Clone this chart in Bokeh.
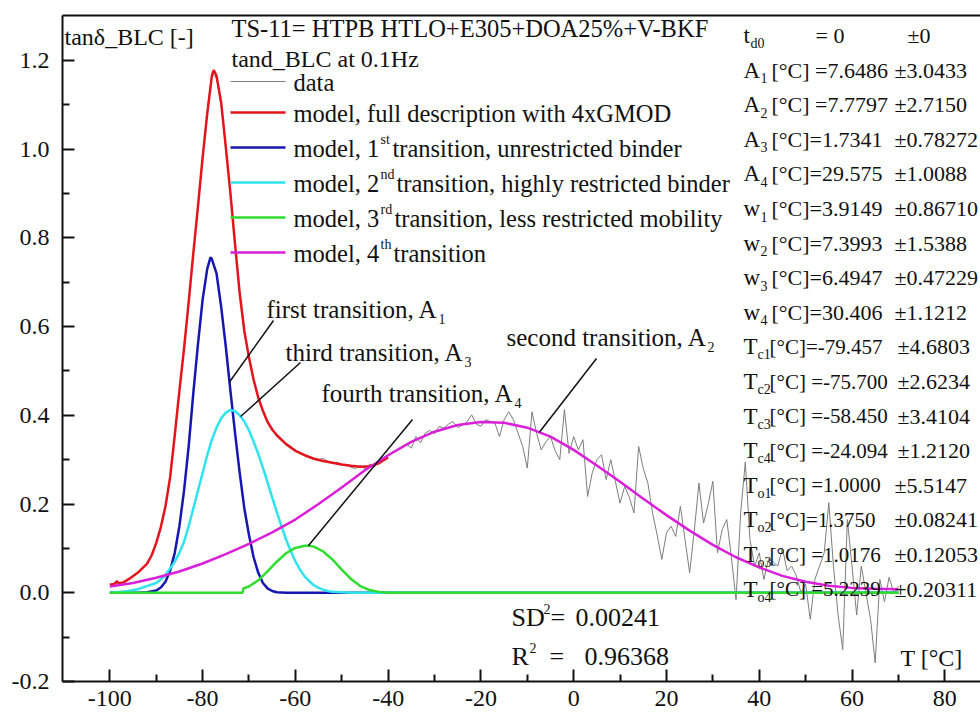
import numpy as np
from bokeh.plotting import figure
from bokeh.models import Label, LinearAxis, FixedTicker, PrintfTickFormatter, Range1d
from bokeh.embed import file_html
from bokeh.resources import INLINE

# ---------------- measured loss factor (tan delta, baseline corrected) -------------
temp_data = list(range(-100, 71))
tan_data = [
    0.018, 0.022, 0.021, 0.024, 0.030, 0.036, 0.045, 0.055, 0.066, 0.085,
    0.11, 0.15, 0.195, 0.26, 0.355, 0.455, 0.55, 0.655, 0.765, 0.87,
    0.985, 1.085, 1.17, 1.16, 1.10, 1.00, 0.90, 0.785, 0.67, 0.585,
    0.53, 0.48, 0.44, 0.41, 0.387, 0.368, 0.357, 0.345, 0.336, 0.33,
    0.322, 0.316, 0.31, 0.306, 0.302, 0.30, 0.303, 0.296, 0.292, 0.294,
    0.289, 0.287, 0.283, 0.28, 0.287, 0.279, 0.29, 0.283, 0.296, 0.30,
    0.31, 0.318, 0.322, 0.33, 0.335, 0.326, 0.352, 0.338, 0.36, 0.366,
    0.358, 0.375, 0.371, 0.38, 0.386, 0.372, 0.378, 0.385, 0.401, 0.38,
    0.375, 0.39, 0.386, 0.383, 0.352, 0.39, 0.408, 0.39, 0.36, 0.33,
    0.281, 0.408, 0.36, 0.322, 0.34, 0.352, 0.32, 0.30, 0.413, 0.314,
    0.352, 0.322, 0.345, 0.217, 0.27, 0.30, 0.311, 0.255, 0.30, 0.25,
    0.202, 0.24, 0.215, 0.18, 0.33, 0.28, 0.247, 0.18, 0.13, 0.075,
    0.135, 0.15, 0.127, 0.195, 0.12, 0.045, 0.14, 0.247, 0.157, 0.2,
    0.251, 0.09, 0.142, 0.165, 0.08, -0.016, 0.18, 0.295, 0.12, 0.06,
    0.09, 0.03, 0.075, 0.07, 0.06, 0.1, 0.05, 0.06, 0.038, 0.0,
    0.02, -0.06, 0.03, 0.06, 0.09, 0.203, 0.06, -0.05, -0.128, 0.165,
    0.06, -0.05, 0.06, 0.0, -0.06, -0.158, 0.03, -0.02, 0.035, 0.0, 0.015,
]

# ---------------- model curves (4 x GMOD and their sum) ----------------------------
full_T = [-100, -99, -98.5, -98, -97, -96, -94, -92, -91, -90, -89, -88, -87, -86,
          -85, -84, -83, -82, -81, -80, -79, -78, -77.6, -77, -76, -75, -74, -73,
          -72, -71, -70, -69, -68, -67, -66, -65, -64, -62, -60, -58, -56, -54,
          -52, -50, -48, -46, -44, -42, -40]
full_v = [0.018, 0.02, 0.026, 0.021, 0.024, 0.03, 0.045, 0.065, 0.084, 0.112, 0.148,
          0.195, 0.26, 0.355, 0.455, 0.55, 0.655, 0.765, 0.87, 0.98, 1.08, 1.165,
          1.178, 1.165, 1.105, 1.005, 0.9, 0.785, 0.675, 0.59, 0.53, 0.48, 0.44,
          0.41, 0.385, 0.368, 0.355, 0.335, 0.32, 0.31, 0.302, 0.297, 0.293, 0.289,
          0.286, 0.284, 0.285, 0.292, 0.305]

first_T = [-100, -94, -92, -90, -89, -88, -87, -86, -85, -84, -83, -82, -81, -80,
           -79, -78.3, -78, -77, -76, -75, -74, -73, -72, -71, -70, -69, -68, -67,
           -66, -65, -64, -62, 70]
first_v = [0, 0, 0.001, 0.005, 0.012, 0.025, 0.05, 0.09, 0.15, 0.23, 0.33, 0.45,
           0.56, 0.66, 0.73, 0.756, 0.752, 0.72, 0.645, 0.555, 0.455, 0.36, 0.27,
           0.19, 0.13, 0.08, 0.045, 0.022, 0.01, 0.004, 0.001, 0, 0]

second_T = [-100, -98, -96, -94, -92, -90, -89, -88, -87, -86, -85, -84, -83, -82,
            -81, -80, -79, -78, -77, -76, -75, -74, -73, -72, -71, -70, -69, -68,
            -67, -66, -65, -64, -63, -62, -61, -60, -59, -58, -57, -56, -55, -54,
            -53, -52, -50, -48, 70]
second_v = [0.0, 0.002, 0.004, 0.008, 0.015, 0.022, 0.03, 0.04, 0.055, 0.07, 0.09,
            0.115, 0.15, 0.19, 0.23, 0.27, 0.31, 0.345, 0.372, 0.393, 0.406, 0.412,
            0.409, 0.4, 0.386, 0.366, 0.341, 0.313, 0.282, 0.249, 0.215, 0.182,
            0.15, 0.12, 0.094, 0.071, 0.052, 0.037, 0.026, 0.017, 0.011, 0.007,
            0.004, 0.002, 0.001, 0, 0]

third_T = [-100, -71.4, -71.2, -70, -68, -66, -64, -62, -60, -58, -57, -56, -54,
           -52, -50, -48, -46, -44, -42, -40, 70]
third_v = [0, 0, 0.01, 0.014, 0.028, 0.048, 0.07, 0.089, 0.101, 0.106, 0.106,
           0.104, 0.093, 0.075, 0.052, 0.031, 0.015, 0.006, 0.002, 0, 0]

fourth_T = [-100, -95, -90, -85, -80, -75, -70, -65, -60, -55, -50, -45, -40, -35,
            -30, -25, -20, -15, -10, -5, 0, 5, 10, 15, 20, 25, 30, 35, 40, 45, 50,
            55, 60, 65, 70]
fourth_v = [0.014, 0.022, 0.034, 0.048, 0.066, 0.087, 0.11, 0.136, 0.165, 0.2,
            0.237, 0.276, 0.31, 0.34, 0.363, 0.378, 0.385, 0.383, 0.372, 0.352,
            0.322, 0.287, 0.25, 0.212, 0.175, 0.14, 0.108, 0.08, 0.057, 0.038,
            0.025, 0.016, 0.011, 0.009, 0.008]

# ---------------- axes ---------------------------------------------------------------
x_ticks = [-100, -80, -60, -40, -20, 0, 20, 40, 60, 80]
x_minor = [-90, -70, -50, -30, -10, 10, 30, 50, 70]
y_ticks = [-0.2, 0.0, 0.2, 0.4, 0.6, 0.8, 1.0, 1.2]
y_minor = [-0.1, 0.1, 0.3, 0.5, 0.7, 0.9, 1.1]

# ---------------- fit parameter table ------------------------------------------------
par_sym = ["t", "A", "A", "A", "A", "w", "w", "w", "w",
           "T", "T", "T", "T", "T", "T", "T", "T"]
par_sub = ["d0", "1", "2", "3", "4", "1", "2", "3", "4",
           "c1", "c2", "c3", "c4", "o1", "o2", "o3", "o4"]
par_val = ["= 0", "[°C] =7.6486", "[°C] =7.7797", "[°C]=1.7341", "[°C]=29.575",
           "[°C]=3.9149", "[°C]=7.3993", "[°C]=6.4947", "[°C]=30.406",
           "[°C]=-79.457", "[°C] =-75.700", "[°C] =-58.450", "[°C] =-24.094",
           "[°C] =1.0000", "[°C]=1.3750", "[°C] =1.0176", "[°C] =5.2239"]
par_err = ["±0", "±3.0433", "±2.7150", "±0.78272", "±1.0088", "±0.86710",
           "±1.5388", "±0.47229", "±1.1212", "±4.6803", "±2.6234", "±3.4104",
           "±1.2120", "±5.5147", "±0.08241", "±0.12053", "±0.20311"]

SD2 = "0.00241"
R2 = "0.96368"

# ---------------- colours / fonts ----------------------------------------------------
SERIF = "Liberation Serif"
INK = "#111111"
C_DATA = "#7d7d7d"
C_FULL = "#e3141b"
C_FIRST = "#1616b0"
C_SECOND = "#2fe3ee"
C_THIRD = "#2fdc2f"
C_FOURTH = "#d91fd9"

# frame geometry (pixels) and data ranges
FL, FR, FT, FB = 62, 980, 15, 681
XMIN, XMAX = -110.2, 87.7
YMIN, YMAX = -0.2, 1.301


def dx(px):
    return XMIN + (px - FL) / (FR - FL) * (XMAX - XMIN)


def dy(py):
    return YMAX - (py - FT) / (FB - FT) * (YMAX - YMIN)


p = figure(width=980, height=715, output_backend="svg", toolbar_location=None,
           x_range=Range1d(XMIN, XMAX), y_range=Range1d(YMIN, YMAX),
           min_border_left=FL, min_border_right=0, min_border_top=FT,
           min_border_bottom=715 - FB)
p.outline_line_color = None
p.grid.visible = False
p.background_fill_color = "white"
p.border_fill_color = "white"

for ax in (p.xaxis[0], p.yaxis[0]):
    ax.axis_line_width = 2
    ax.axis_line_color = INK
    ax.major_tick_in = 12
    ax.major_tick_out = 0
    ax.minor_tick_in = 7
    ax.minor_tick_out = 0
    ax.major_tick_line_width = 2
    ax.minor_tick_line_width = 2
    ax.major_tick_line_color = INK
    ax.minor_tick_line_color = INK
    ax.major_label_text_font = SERIF
    ax.major_label_text_font_size = "24px"
    ax.major_label_text_color = INK

p.xaxis.ticker = FixedTicker(ticks=x_ticks, minor_ticks=x_minor)
p.xaxis.formatter = PrintfTickFormatter(format="%d")
p.xaxis.major_label_standoff = 9
p.yaxis.ticker = FixedTicker(ticks=y_ticks, minor_ticks=y_minor)
p.yaxis.formatter = PrintfTickFormatter(format="%.1f")
p.yaxis.major_label_standoff = 13

top = LinearAxis(ticker=FixedTicker(ticks=[]), axis_line_width=2, axis_line_color=INK,
                 major_tick_line_color=None, minor_tick_line_color=None,
                 major_label_text_font_size="0px")
p.add_layout(top, "above")

# ---------------- curves -------------------------------------------------------------
p.line(temp_data, tan_data, color=C_DATA, line_width=1)
p.line(full_T, full_v, color=C_FULL, line_width=2.5)
p.line(first_T, first_v, color=C_FIRST, line_width=2.5)
p.line(second_T, second_v, color=C_SECOND, line_width=2.5)
p.line(third_T, third_v, color=C_THIRD, line_width=2.5)
p.line(fourth_T, fourth_v, color=C_FOURTH, line_width=2.5)


def lab(text, px, py, size="24px", align="left"):
    """Text whose vertical middle sits at pixel row py."""
    p.add_layout(Label(x=dx(px), y=dy(py), text=text, text_font=SERIF,
                       text_font_size=size, text_align=align,
                       text_baseline="middle", text_color=INK))


# ---------------- header and legend --------------------------------------------------
lab("tanδ_BLC [-]", 64, 36)
lab("TS-11= HTPB HTLO+E305+DOA25%+V-BKF", 231, 28, size="24.5px")
lab("tand_BLC at 0.1Hz", 231, 58)

LEG = "24.5px"
legend_rows = [
    (C_DATA, 1, 81, [("data", 293, 0, LEG)]),
    (C_FULL, 2.5, 112, [("model, full description with 4xGMOD", 293, 0, LEG)]),
    (C_FIRST, 2.5, 147, [("model, 1", 293, 0, LEG), ("st", 380, -9, "14px"),
                         (" transition, unrestricted binder", 392, 0, LEG)]),
    (C_SECOND, 2.5, 182, [("model, 2", 293, 0, LEG), ("nd", 380, -9, "14px"),
                          (" transition, highly restricted binder", 396, 0, LEG)]),
    (C_THIRD, 2.5, 217, [("model, 3", 293, 0, LEG), ("rd", 380, -9, "14px"),
                         (" transition, less restricted mobility", 394, 0, LEG)]),
    (C_FOURTH, 2.5, 252, [("model, 4", 293, 0, LEG), ("th", 380, -9, "14px"),
                          (" transition", 393, 0, LEG)]),
]
for color, lw, ly, parts in legend_rows:
    p.segment(x0=[dx(230)], y0=[dy(ly)], x1=[dx(285)], y1=[dy(ly)],
              line_color=color, line_width=lw)
    for text, px, rise, size in parts:
        lab(text, px, ly + 1 + rise, size=size)

# ---------------- transition annotations ---------------------------------------------
notes = [
    ("first transition, A", "1", 266, 309, 438, (273, 320), -74.2, first_T, first_v),
    ("third transition, A", "3", 285, 352, 464, (300, 362), -71.8, second_T, second_v),
    ("fourth transition, A", "4", 321, 393, 514, (412, 419), -57.2, third_T, third_v),
    ("second transition, A", "2", 506, 337, 707, (596, 358), -7.4, fourth_T, fourth_v),
]
for text, sub, tx, ty, sx, (ux, uy), t_end, cT, cV in notes:
    lab(text, tx, ty, size="25px")
    lab(sub, sx, ty + 9, size="14px")
    p.segment(x0=[dx(ux)], y0=[dy(uy)], x1=[t_end],
              y1=[float(np.interp(t_end, cT, cV))], line_color=INK, line_width=1.5)

# ---------------- parameter table ----------------------------------------------------
for i in range(len(par_sym)):
    mid = 35 + 34.6 * i
    sym = par_sym[i]
    sub = par_sub[i]
    lab(sym, 743, mid, size="23px")
    if sym == "t":
        lab(sub, 750, mid + 8, size="14px")
        lab(par_val[i], 815, mid, size="22px")
        lab(par_err[i], 907, mid, size="22px")
    elif sym == "T":
        lab(sub, 757, mid + 8, size="14px")
        lab(par_val[i], 769, mid, size="21px")
        lab(par_err[i], 897 if sub[0] == "c" else 894, mid, size="22px")
    else:
        lab(sub, 760, mid + 8, size="14px")
        lab(par_val[i], 771, mid, size="22px")
        lab(par_err[i], 894, mid, size="22px")

# ---------------- fit quality and axis title -----------------------------------------
lab("SD", 511, 617, size="26px")
lab("2", 543, 608, size="14px")
lab("=", 550, 617, size="26px")
lab(SD2, 575, 617, size="26px")
lab("R", 511, 656, size="26px")
lab("2", 529, 647, size="14px")
lab("=", 549, 656, size="26px")
lab(R2, 584, 656, size="26px")
lab("T [°C]", 900, 657, size="24px")

open("out.html", "w").write(file_html(p, INLINE))
